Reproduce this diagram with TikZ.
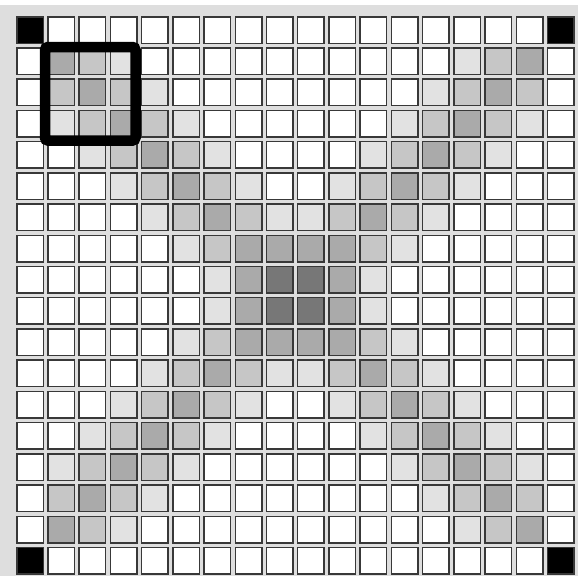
\documentclass[tikz,border=0pt]{standalone}
\definecolor{bg}{HTML}{DEDEDE}
\definecolor{lv0}{HTML}{FFFFFF}
\definecolor{lv1}{HTML}{E2E2E2}
\definecolor{lv2}{HTML}{C6C6C6}
\definecolor{lv3}{HTML}{AAAAAA}
\definecolor{lv5}{HTML}{777777}
\definecolor{lv9}{HTML}{000000}
\definecolor{edgecol}{HTML}{383838}
\begin{document}
\begin{tikzpicture}[x=1pt,y=-1pt,
  cellbox/.style={draw=edgecol, line width=1.5pt},
  framebox/.style={draw=black, line width=10.5pt, rounded corners=3pt}]
\useasboundingbox (0,0) rectangle (578,576);
\fill[white] (0,0) rectangle (578,576);
\fill[bg] (0,5) rectangle (578,576);
\foreach \r in {0,...,17}{
  \foreach \c in {0,...,17}{
    \pgfmathtruncatemacro{\corner}{or(\r==0,\r==17)*or(\c==0,\c==17)}
    \pgfmathtruncatemacro{\lv}{\corner*9 + (\r>0)*(\r<17)*(\c>0)*(\c<17)*(max(0,3-abs(\r-\c))+max(0,3-abs(\r+\c-17)))}
    \pgfmathsetmacro{\xx}{16+31.22*\c}
    \pgfmathsetmacro{\yy}{16+31.22*\r}
    \draw[cellbox, fill=lv\lv] (\xx+0.75,\yy+0.75) rectangle (\xx+27.25,\yy+27.25);
  }
}
\draw[framebox] (45,47) rectangle (135.5,140.5);
\end{tikzpicture}
\end{document}
